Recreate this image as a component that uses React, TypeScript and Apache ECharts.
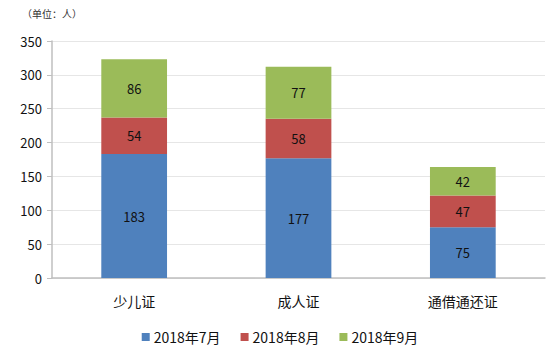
import React, { useEffect, useRef } from "react";
import * as echarts from "echarts";

const categories = ["少儿证", "成人证", "通借通还证"];
const seriesNames = ["2018年7月", "2018年8月", "2018年9月"];
const july = [183, 177, 75];
const august = [54, 58, 47];
const september = [86, 77, 42];
const colors = ["#4F81BD", "#C0504D", "#9BBB59"];
const yTicks = { min: 0, max: 350, interval: 50 };

export default function App() {
  const ref = useRef<HTMLDivElement>(null);
  useEffect(() => {
    if (!ref.current) return;
    const chart = echarts.init(ref.current, undefined, { renderer: "svg" });
    const font = "'Microsoft YaHei', 'Noto Sans CJK SC', 'DejaVu Sans', sans-serif";
    const data = [july, august, september];
    chart.setOption({
      animation: false,
      textStyle: { fontFamily: font },
      graphic: [
        {
          type: "text",
          left: 22,
          top: 8,
          style: { text: "（单位：人）", fontSize: 10, fill: "#333", fontFamily: font },
        },
      ],
      legend: {
        bottom: 10,
        left: "center",
        itemWidth: 8,
        itemHeight: 8,
        itemGap: 20,
        icon: "rect",
        textStyle: { fontSize: 14, color: "#111", fontFamily: font, padding: [0, 0, 0, -1] },
        data: seriesNames,
      },
      grid: { left: 52, right: 15, top: 41, bottom: 81, containLabel: false },
      xAxis: {
        type: "category",
        data: categories,
        axisLine: { lineStyle: { color: "#BFBFBF", width: 1.5 } },
        axisTick: { show: false },
        axisLabel: { fontSize: 14, color: "#111", margin: 16, fontFamily: font },
      },
      yAxis: {
        type: "value",
        min: yTicks.min,
        max: yTicks.max,
        interval: yTicks.interval,
        axisLine: { show: true, lineStyle: { color: "#BFBFBF", width: 1.5 } },
        axisTick: { show: true, length: 5, lineStyle: { color: "#BFBFBF" } },
        axisLabel: { fontSize: 13, color: "#111", margin: 10, fontFamily: font },
        splitLine: { lineStyle: { color: "#E6E6E6" } },
      },
      series: seriesNames.map((name, i) => ({
        name,
        type: "bar",
        stack: "total",
        barWidth: "40%",
        data: data[i],
        itemStyle: { color: colors[i] },
        label: {
          show: true,
          position: "inside",
          color: "#111",
          fontSize: 13,
          fontFamily: font,
        },
      })),
    });
    return () => chart.dispose();
  }, []);
  return <div ref={ref} style={{ width: 560, height: 359, position: "absolute", left: 0, top: 0 }} />;
}
